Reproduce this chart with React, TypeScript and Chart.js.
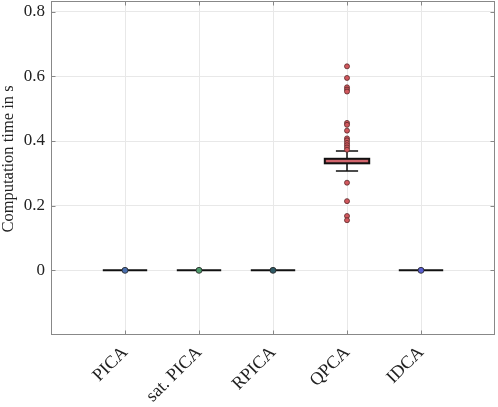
import React, { useEffect, useRef } from "react";
import { Chart, registerables } from "chart.js";

Chart.register(...registerables);

const categories = ["PICA", "sat. PICA", "RPICA", "QPCA", "IDCA"];
const positions = [1, 2, 3, 4, 5];
const q1 = [0, 0, 0, 0.331, 0];
const medians = [0, 0, 0, 0.338, 0];
const q3 = [0, 0, 0, 0.345, 0];
const whiskerLow = [0, 0, 0, 0.307, 0];
const whiskerHigh = [0, 0, 0, 0.369, 0];
const qpcaOutliers = [
  0.631, 0.595, 0.566, 0.559, 0.553, 0.456, 0.45, 0.432, 0.408, 0.402, 0.394,
  0.387, 0.38, 0.373, 0.271, 0.214, 0.168, 0.155,
];
const zeroMarkerValues = [0, 0, 0, 0];
const zeroMarkerPositions = [1, 2, 3, 5];
const zeroMarkerColors = ["#4a6fae", "#4e9a6b", "#2f5a66", "#5a5fd0"];
const yTicks = [0, 0.2, 0.4, 0.6, 0.8];
const yTitle = "Computation time in s";

const FONT = "'Liberation Serif', 'DejaVu Serif', serif";

const boxPlugin = {
  id: "boxes",
  beforeDatasetsDraw(chart: any) {
    const { ctx, scales } = chart;
    const xs = scales.x;
    const ys = scales.y;
    const half = 0.3;
    const capHalf = 0.15;
    ctx.save();
    for (let i = 0; i < positions.length; i++) {
      const p = positions[i];
      const xl = xs.getPixelForValue(p - half);
      const xr = xs.getPixelForValue(p + half);
      const xc = xs.getPixelForValue(p);
      const cl = xs.getPixelForValue(p - capHalf);
      const cr = xs.getPixelForValue(p + capHalf);
      const yq1 = ys.getPixelForValue(q1[i]);
      const yq3 = ys.getPixelForValue(q3[i]);
      const ym = ys.getPixelForValue(medians[i]);
      const ywl = ys.getPixelForValue(whiskerLow[i]);
      const ywh = ys.getPixelForValue(whiskerHigh[i]);
      ctx.strokeStyle = "#111";
      ctx.lineWidth = 1.5;
      if (ywl !== yq1 || ywh !== yq3) {
        ctx.beginPath();
        ctx.moveTo(xc, yq1);
        ctx.lineTo(xc, ywl);
        ctx.moveTo(xc, yq3);
        ctx.lineTo(xc, ywh);
        ctx.moveTo(cl, ywl);
        ctx.lineTo(cr, ywl);
        ctx.moveTo(cl, ywh);
        ctx.lineTo(cr, ywh);
        ctx.stroke();
      }
      if (Math.abs(yq1 - yq3) > 0.5) {
        ctx.fillStyle = "#c85a62";
        ctx.fillRect(xl, yq3, xr - xl, yq1 - yq3);
        ctx.lineWidth = 2;
        ctx.strokeStyle = "#111";
        ctx.strokeRect(xl, yq3, xr - xl, yq1 - yq3);
        ctx.strokeStyle = "#d46a72";
        ctx.lineWidth = 1.5;
        ctx.beginPath();
        ctx.moveTo(xl + 2, ym);
        ctx.lineTo(xr - 2, ym);
        ctx.stroke();
      } else {
        ctx.lineWidth = 2;
        ctx.strokeStyle = "#111";
        ctx.beginPath();
        ctx.moveTo(xl, ym);
        ctx.lineTo(xr, ym);
        ctx.stroke();
      }
    }
    ctx.restore();
  },
  afterDraw(chart: any) {
    const { ctx, chartArea, scales } = chart;
    ctx.save();
    ctx.strokeStyle = "#888";
    ctx.lineWidth = 1;
    const l = Math.round(chartArea.left) + 0.5;
    const r = Math.round(chartArea.right) - 0.5;
    const t = Math.round(chartArea.top) + 0.5;
    const b = Math.round(chartArea.bottom) - 0.5;
    ctx.strokeRect(l, t, r - l, b - t);
    ctx.beginPath();
    for (const v of yTicks) {
      const y = Math.round(scales.y.getPixelForValue(v)) + 0.5;
      ctx.moveTo(l, y);
      ctx.lineTo(l + 4, y);
      ctx.moveTo(r, y);
      ctx.lineTo(r - 4, y);
    }
    for (const p of positions) {
      const x = Math.round(scales.x.getPixelForValue(p)) + 0.5;
      ctx.moveTo(x, b);
      ctx.lineTo(x, b - 4);
      ctx.moveTo(x, t);
      ctx.lineTo(x, t + 4);
    }
    ctx.stroke();
    // y-axis title
    ctx.fillStyle = "#222";
    ctx.font = `16.5px ${FONT}`;
    ctx.textAlign = "center";
    ctx.textBaseline = "middle";
    ctx.translate(9, (chartArea.top + chartArea.bottom) / 2 - 9);
    ctx.rotate(-Math.PI / 2);
    ctx.fillText(yTitle, 0, 0);
    ctx.restore();
  },
};

export default function App() {
  const ref = useRef<HTMLCanvasElement>(null);
  useEffect(() => {
    if (!ref.current) return;
    const outlierData = qpcaOutliers.map((v) => ({ x: 4, y: v }));
    const zeroData = zeroMarkerValues.map((v, i) => ({ x: zeroMarkerPositions[i], y: v }));
    const chart = new Chart(ref.current, {
      type: "scatter",
      data: {
        datasets: [
          {
            data: outlierData,
            pointRadius: 2.5,
            pointBackgroundColor: "#d2585e",
            pointBorderColor: "#5a2a2a",
            pointBorderWidth: 0.8,
          },
          {
            data: zeroData,
            pointRadius: 3,
            pointBackgroundColor: zeroMarkerColors,
            pointBorderColor: "#222",
            pointBorderWidth: 0.8,
          },
        ],
      },
      options: {
        animation: false,
        responsive: false,
        maintainAspectRatio: false,
        layout: { autoPadding: false, padding: { top: 1, right: 3, left: 0, bottom: 0 } },
        plugins: { legend: { display: false }, tooltip: { enabled: false } },
        scales: {
          x: {
            type: "linear",
            min: 0,
            max: 6,
            afterBuildTicks: (s: any) => {
              s.ticks = positions.map((v) => ({ value: v }));
            },
            afterFit: (s: any) => {
              s.height = 72;
              s.paddingLeft = 0;
              s.paddingRight = 0;
              s.paddingTop = 0;
              s.paddingBottom = 0;
            },
            grid: { color: "#e8e8e8", drawTicks: false },
            border: { display: false },
            ticks: {
              minRotation: 45,
              maxRotation: 45,
              padding: 7,
              color: "#222",
              font: { family: FONT, size: 18 },
              callback: (v: any) => categories[positions.indexOf(Number(v))] ?? "",
            },
          },
          y: {
            type: "linear",
            min: -0.2,
            max: 0.833,
            afterBuildTicks: (s: any) => {
              s.ticks = yTicks.map((v) => ({ value: v }));
            },
            afterFit: (s: any) => {
              s.width = 51;
              s.paddingLeft = 0;
              s.paddingRight = 0;
              s.paddingTop = 0;
              s.paddingBottom = 0;
            },
            grid: { color: "#e8e8e8", drawTicks: false },
            border: { display: false },
            ticks: {
              padding: 6,
              color: "#222",
              font: { family: FONT, size: 17 },
              callback: (v: any) => (Number(v) === 0 ? "0" : Number(v).toFixed(1)),
            },
          },
        },
      },
      plugins: [boxPlugin],
    });
    return () => chart.destroy();
  }, []);
  return (
    <div style={{ position: "fixed", left: 0, top: 0, width: 498, height: 407, background: "#fff" }}>
      <canvas ref={ref} width={498} height={407} style={{ width: 498, height: 407, display: "block" }} />
    </div>
  );
}
